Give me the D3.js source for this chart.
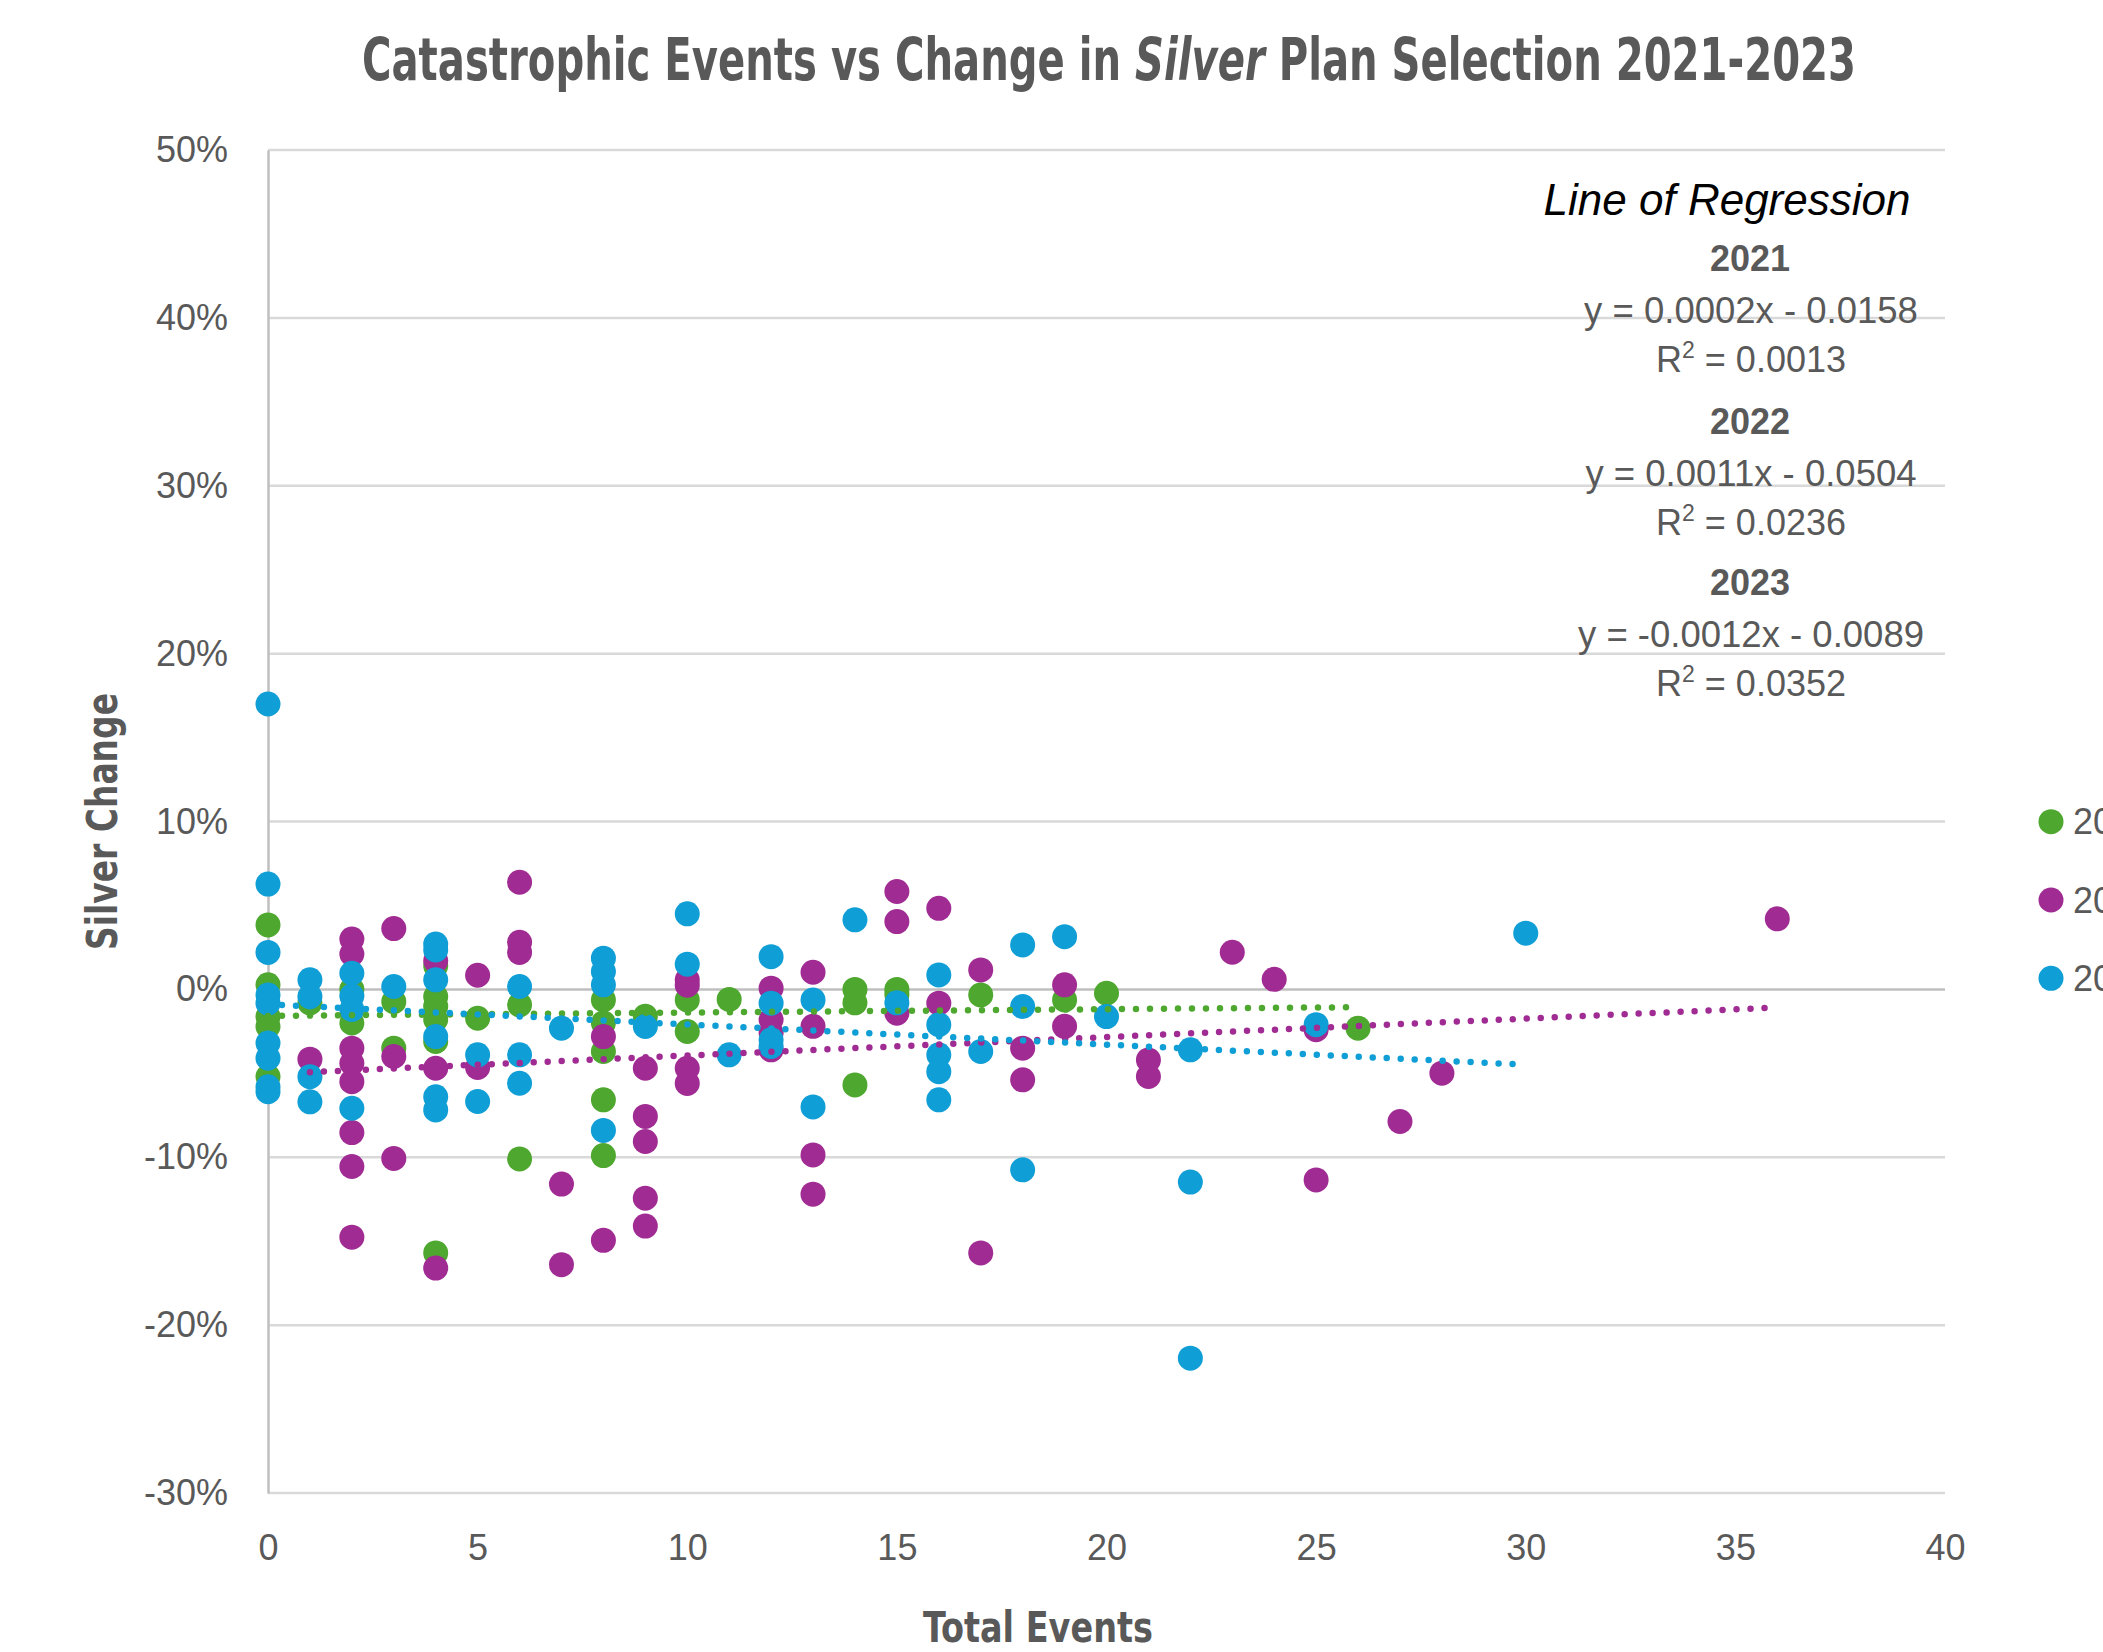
<!DOCTYPE html>
<html>
<head>
<meta charset="utf-8">
<script src="https://cdn.jsdelivr.net/npm/d3@7"></script>
<style>
  body { margin: 0; background: #fff; }
  svg { display: block; overflow: hidden; }
  text { font-family: "Liberation Sans", Arial, sans-serif; fill: #595959; }
  .narrow { font-family: "Liberation Sans Narrow", "DejaVu Sans Condensed", "Liberation Sans", sans-serif; font-weight: bold; }
</style>
</head>
<body>
<script>
// series: [total events, silver change]
var years = ["2021", "2022", "2023"];
var colors = ["#4EA72E", "#A02B93", "#0F9ED5"];

var points2021 = [
  [0, 0.0384], [0, 0.0027], [0, -0.0162], [0, -0.0221], [0, -0.0519],
  [1, -0.008], [2, 0.0], [2, -0.020], [3, -0.0073], [3, -0.035],
  [4, 0.014], [4, -0.0043], [4, -0.010], [4, -0.018], [4, -0.031], [4, -0.157],
  [5, -0.0172], [6, -0.0092], [6, -0.101],
  [8, -0.0063], [8, -0.020], [8, -0.037], [8, -0.0658], [8, -0.099],
  [9, -0.016], [10, -0.0063], [10, -0.0251], [11, -0.006],
  [14, 0.0], [14, -0.008], [14, -0.0569], [15, 0.0], [15, -0.003],
  [17, -0.0033], [19, -0.0063], [20, -0.0023], [26, -0.0231]
];

var points2022 = [
  [1, -0.0416],
  [2, 0.030], [2, 0.021], [2, -0.035], [2, -0.044], [2, -0.055], [2, -0.0853], [2, -0.1055], [2, -0.1476],
  [3, 0.0362], [3, -0.040], [3, -0.1007],
  [4, 0.017], [4, -0.047], [4, -0.166],
  [5, 0.0084], [5, -0.0465],
  [6, 0.0638], [6, 0.028], [6, 0.022],
  [7, -0.116], [7, -0.164],
  [8, -0.0281], [8, -0.1495],
  [9, -0.047], [9, -0.0757], [9, -0.0906], [9, -0.1244], [9, -0.141],
  [10, 0.0057], [10, 0.0025], [10, -0.047], [10, -0.056],
  [12, 0.0007], [12, -0.018], [12, -0.026], [12, -0.036],
  [13, 0.0102], [13, -0.022], [13, -0.0986], [13, -0.122],
  [15, 0.0583], [15, 0.0404], [15, -0.0142],
  [16, 0.0483], [16, -0.0082],
  [17, 0.0116], [17, -0.157],
  [18, -0.035], [18, -0.0539],
  [19, 0.0027], [19, -0.022],
  [21, -0.042], [21, -0.0519],
  [23, 0.0221], [24, 0.006], [25, -0.024], [25, -0.1135],
  [27, -0.0787], [28, -0.0499], [36, 0.042]
];

var points2023 = [
  [0, 0.170], [0, 0.0627], [0, 0.022], [0, -0.0033], [0, -0.0082], [0, -0.032], [0, -0.041], [0, -0.058], [0, -0.061],
  [1, 0.0057], [1, -0.0043], [1, -0.052], [1, -0.067],
  [2, 0.0096], [2, -0.004], [2, -0.012], [2, -0.0708],
  [3, 0.0017],
  [4, 0.027], [4, 0.0235], [4, 0.0057], [4, -0.0281], [4, -0.064], [4, -0.0718],
  [5, -0.039], [5, -0.0668],
  [6, 0.0017], [6, -0.039], [6, -0.0559],
  [7, -0.0231],
  [8, 0.0186], [8, 0.0106], [8, 0.0027], [8, -0.084],
  [9, -0.0221],
  [10, 0.045], [10, 0.015],
  [11, -0.039],
  [12, 0.0195], [12, -0.0082], [12, -0.030], [12, -0.034],
  [13, -0.0063], [13, -0.070],
  [14, 0.0414], [15, -0.008],
  [16, 0.0086], [16, -0.021], [16, -0.039], [16, -0.049], [16, -0.0658],
  [17, -0.037],
  [18, 0.0265], [18, -0.0102], [18, -0.1075],
  [19, 0.0314], [20, -0.0162],
  [22, -0.036], [22, -0.1148], [22, -0.2197],
  [25, -0.021], [30, 0.0335]
];

// regression lines as printed on the chart
var slopes = [0.0002, 0.0011, -0.0012];
var intercepts = [-0.0158, -0.0504, -0.0089];
var equations = ["y = 0.0002x - 0.0158", "y = 0.0011x - 0.0504", "y = -0.0012x - 0.0089"];
var rSquared = ["0.0013", "0.0236", "0.0352"];

var xTicks = [0, 5, 10, 15, 20, 25, 30, 35, 40];
var yTicks = [-0.3, -0.2, -0.1, 0, 0.1, 0.2, 0.3, 0.4, 0.5];

var series = [points2021, points2022, points2023];

var width = 2103, height = 1652;
var plotLeft = 268, plotRight = 1945, plotTop = 150, plotBottom = 1493;

var svg = d3.select("body").append("svg")
    .attr("width", width)
    .attr("height", height);

var x = d3.scaleLinear().domain([0, 40]).range([plotLeft, plotRight]);
var y = d3.scaleLinear().domain([-0.3, 0.5]).range([plotBottom, plotTop]);

// excel writes a plain hyphen for negatives
var pct = d3.format(".0%");
var fmtPct = function(d) { return pct(d).replace("\u2212", "-"); };

// gridlines
svg.append("g")
    .selectAll("line")
    .data(yTicks)
    .join("line")
    .attr("x1", plotLeft)
    .attr("x2", plotRight)
    .attr("y1", function(d) { return y(d); })
    .attr("y2", function(d) { return y(d); })
    .attr("stroke", function(d) { return d === 0 ? "#bfbfbf" : "#d9d9d9"; })
    .attr("stroke-width", 2.5);

// y axis
var yAxis = svg.append("g")
    .attr("transform", "translate(" + plotLeft + ",0)")
    .call(d3.axisLeft(y).tickValues(yTicks).tickFormat(fmtPct).tickSize(0).tickPadding(40));
yAxis.select(".domain").attr("stroke", "#bfbfbf").attr("stroke-width", 2.5);
yAxis.selectAll("text").attr("font-size", 36).attr("font-family", null);

// x axis (labels only)
var xAxis = svg.append("g")
    .attr("transform", "translate(0," + plotBottom + ")")
    .call(d3.axisBottom(x).tickValues(xTicks).tickSize(0).tickPadding(41));
xAxis.select(".domain").remove();
xAxis.selectAll("text").attr("font-size", 36).attr("font-family", null);

// markers
series.forEach(function(pts, i) {
  svg.append("g")
      .selectAll("circle")
      .data(pts)
      .join("circle")
      .attr("cx", function(d) { return x(d[0]); })
      .attr("cy", function(d) { return y(d[1]); })
      .attr("r", 12.5)
      .attr("fill", colors[i]);
});

// trendlines, dotted, over the markers
series.forEach(function(pts, i) {
  var ext = d3.extent(pts, function(d) { return d[0]; });
  var line = d3.line()
      .x(function(d) { return x(d); })
      .y(function(d) { return y(slopes[i] * d + intercepts[i]); });
  svg.append("path")
      .datum(ext)
      .attr("d", line)
      .attr("fill", "none")
      .attr("stroke", colors[i])
      .attr("stroke-width", 6.5)
      .attr("stroke-linecap", "round")
      .attr("stroke-dasharray", "0 14");
});

// title
var title = svg.append("text")
    .attr("class", "narrow")
    .attr("x", 362)
    .attr("y", 80)
    .attr("font-size", 58)
    .attr("textLength", 1494)
    .attr("lengthAdjust", "spacingAndGlyphs");
title.append("tspan").text("Catastrophic Events vs Change in ");
title.append("tspan").attr("font-style", "italic").text("Silver");
title.append("tspan").text(" Plan Selection 2021-2023");

// axis titles
svg.append("text")
    .attr("class", "narrow")
    .attr("transform", "translate(117,950) rotate(-90)")
    .attr("font-size", 42)
    .attr("textLength", 257)
    .attr("lengthAdjust", "spacingAndGlyphs")
    .text("Silver Change");

svg.append("text")
    .attr("class", "narrow")
    .attr("x", 923)
    .attr("y", 1642)
    .attr("font-size", 42)
    .attr("textLength", 230)
    .attr("lengthAdjust", "spacingAndGlyphs")
    .text("Total Events");

// regression note
svg.append("text")
    .attr("x", 1727)
    .attr("y", 215)
    .attr("text-anchor", "middle")
    .attr("font-size", 44)
    .attr("font-style", "italic")
    .style("fill", "#000")
    .text("Line of Regression");

var noteY = [271, 434, 595];
years.forEach(function(yr, i) {
  var y0 = noteY[i];
  svg.append("text")
      .attr("x", 1750)
      .attr("y", y0)
      .attr("text-anchor", "middle")
      .attr("font-size", 36)
      .attr("font-weight", "bold")
      .text(yr);
  svg.append("text")
      .attr("x", 1751)
      .attr("y", y0 + 52)
      .attr("text-anchor", "middle")
      .attr("font-size", 36.5)
      .text(equations[i]);
  var r = svg.append("text")
      .attr("x", 1751)
      .attr("y", y0 + 101)
      .attr("text-anchor", "middle")
      .attr("font-size", 36);
  r.append("tspan").text("R");
  r.append("tspan").attr("font-size", 23).attr("dy", -14).text("2");
  r.append("tspan").attr("dy", 14).text(" = " + rSquared[i]);
});

// legend, cut off by the right edge like the source
var legend = svg.append("g")
    .selectAll("g")
    .data(years)
    .join("g")
    .attr("transform", function(d, i) { return "translate(2051," + (821.7 + i * 78.3) + ")"; });
legend.append("circle")
    .attr("r", 12.5)
    .attr("fill", function(d, i) { return colors[i]; });
legend.append("text")
    .attr("x", 22)
    .attr("dy", "0.35em")
    .attr("font-size", 36)
    .text(function(d) { return d; });
</script>
</body>
</html>
